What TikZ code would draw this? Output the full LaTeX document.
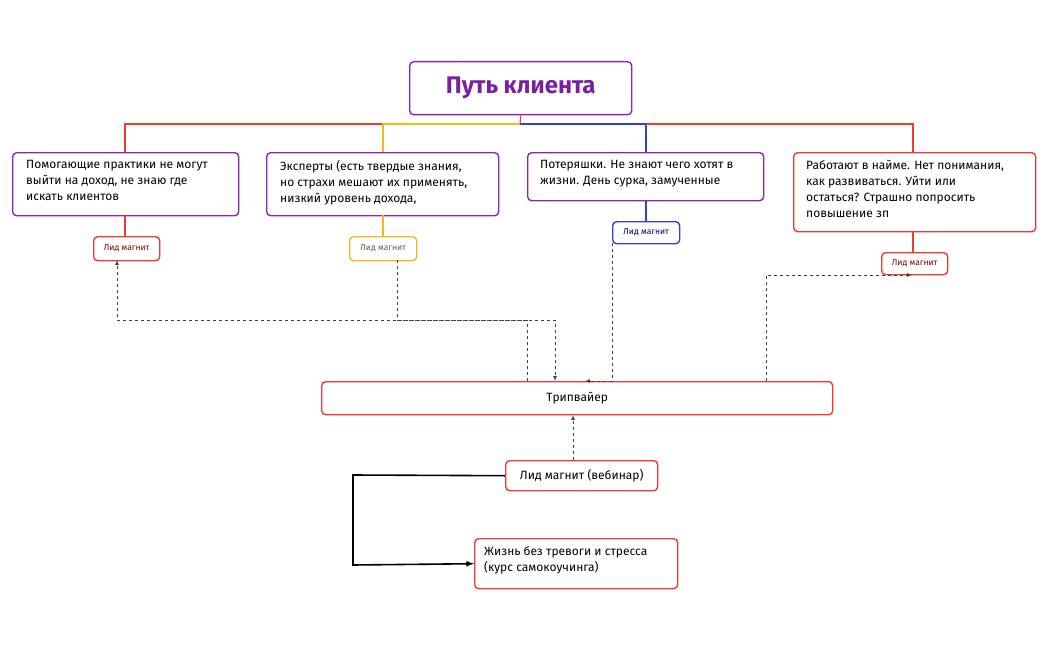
\documentclass[tikz,border=0pt]{standalone}
\usepackage{fontspec}
\setmainfont{Fira Sans}
\begin{document}
\begin{tikzpicture}[x=1pt,y=-1pt,
 box/.style={draw,rounded corners=4pt,line width=1.4pt,inner sep=0pt,anchor=north west},
 txt/.style={font=\fontsize{12}{16}\selectfont,align=left,anchor=north west,inner sep=0pt},
 lead/.style={font=\fontsize{8.5}{10}\selectfont},
 dsh/.style={dashed,draw=black!75,line width=0.7pt,-{latex}}]
\useasboundingbox (0,0) rectangle (1048,650);
\definecolor{pur}{HTML}{8E24AA}
\definecolor{tit}{HTML}{7B1FA2}
\definecolor{rd}{HTML}{F03A30}
\definecolor{yl}{HTML}{F2B81C}
\definecolor{bl}{HTML}{3340D8}
% title
\node[box,draw=pur,minimum width=222pt,minimum height=53pt] (t) at (409,61) {};
\node[font=\bfseries\fontsize{24}{28}\selectfont,text=tit] at (t.center) {Путь клиента};
% boxes
\node[box,draw=pur,minimum width=226pt,minimum height=63pt] (b1) at (12,152) {};
\node[txt] at (26,160) {Помогающие практики не могут\\выйти на доход, не знаю где\\искать клиентов};
\node[box,draw=pur,minimum width=232pt,minimum height=63pt] (b2) at (266,152) {};
\node[txt] at (280,160) {Эксперты (есть твердые знания,\\но страхи мешают их применять,\\низкий уровень дохода,};
\node[box,draw=pur,minimum width=236pt,minimum height=48pt] (b3) at (527,152) {};
\node[txt] at (540,160) {Потеряшки. Не знают чего хотят в\\жизни. День сурка, замученные};
\node[box,draw=rd,minimum width=242pt,minimum height=79pt] (b4) at (793,152) {};
\node[txt] at (806,160) {Работают в найме. Нет понимания,\\как развиваться. Уйти или\\остаться? Страшно попросить\\повышение зп};
% leads
\node[box,draw=rd,minimum width=66pt,minimum height=24pt] (l1) at (93,236) {};
\node[lead,text=red!50!black] at (l1.center) {Лид магнит};
\node[box,draw=yl,minimum width=67pt,minimum height=24pt] (l2) at (349,236) {};
\node[lead,text=yellow!30!black] at (l2.center) {Лид магнит};
\node[box,draw=bl,minimum width=67pt,minimum height=22pt] (l3) at (612,221) {};
\node[lead,text=blue!50!black] at (l3.center) {Лид магнит};
\node[box,draw=rd,minimum width=66pt,minimum height=22pt] (l4) at (881,252) {};
\node[lead,text=red!50!black] at (l4.center) {Лид магнит};
% tree
\coordinate (j) at (520,124);
\draw[rd,line width=1.2pt] (t.south) -- (j);
\draw[rd,line width=1.2pt] (383,124) -- (125,124) -- (125,152);
\draw[yl,line width=1.2pt] (520,124) -- (383,124) -- (383,152);
\draw[bl,line width=1.2pt] (520,124) -- (646,124) -- (646,152);
\draw[rd,line width=1.2pt] (646,124) -- (913,124) -- (913,152);
\draw[rd,line width=1.2pt] (125,215) -- (125,236);
\draw[yl,line width=1.2pt] (383,215) -- (383,236);
\draw[bl,line width=1.2pt] (646,200) -- (646,221);
\draw[rd,line width=1.2pt] (913,231) -- (913,252);
% tripwire etc
\node[box,draw=rd,minimum width=511pt,minimum height=33pt] (tw) at (321,381) {};
\node[font=\fontsize{12}{14}\selectfont] at (tw.center) {Трипвайер};
\node[box,draw=rd,minimum width=152pt,minimum height=30pt] (w) at (505,460) {};
\node[font=\fontsize{12}{14}\selectfont] at (w.center) {Лид магнит (вебинар)};
\node[box,draw=rd,minimum width=203pt,minimum height=50pt] (c) at (474,538) {};
\node[txt] at (484,546) {Жизнь без тревоги и стресса\\(курс самокоучинга)};
% dashed
\draw[dsh] (527,381) -- (527,320) -- (117,320) -- (117,260);
\draw[dsh] (397,260) -- (397,320) -- (555,320) -- (555,381);
\draw[dsh] (612,243) -- (612,381) -- (585,381);
\draw[dsh] (766,381) -- (766,275) -- (912,275);
\draw[dsh] (w.north -| 573,0) -- (573,415);
\draw[line width=1.6pt,-{latex}] (w.west) -- (353,475) -- (353,565) -- (c.west);
\end{tikzpicture}
\end{document}
